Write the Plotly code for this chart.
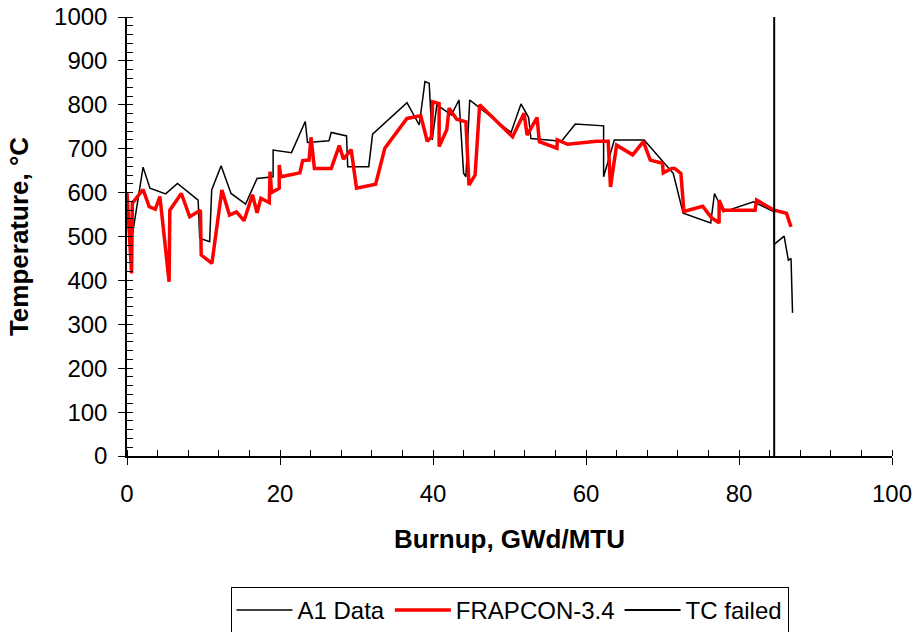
import plotly.graph_objects as go

# Measured thermocouple temperature (A1 Data)
a1_burnup = [0.0, 0.4, 2.1, 3.0, 5.05, 6.6, 9.3, 9.5, 10.8, 11.07, 12.3, 13.6, 15.5,
             17.0, 19.1, 19.1, 21.5, 23.3, 23.6, 26.4, 26.7, 28.7, 28.85, 31.6, 32.1,
             36.6, 38.2, 38.95, 39.5, 39.9, 40.5, 42.4, 43.4, 44.0, 44.3, 44.8, 45.9,
             50.2, 51.5, 52.5, 52.8, 56.8, 58.6, 62.3, 62.3, 63.7, 67.6, 69.7, 71.4,
             72.7, 76.3, 76.8, 77.95, 81.9, 84.6, 84.6, 85.9, 86.45, 86.8, 87.0]
a1_temp = [590, 470, 658, 610, 597, 621, 583, 496, 488, 606, 661, 598, 574,
           632, 636, 697, 691, 762, 714, 718, 737, 729, 659, 659, 733,
           805, 754, 853, 849, 720, 800, 777, 811, 644, 636, 811, 796,
           737, 802, 771, 723, 717, 756, 752, 636, 720, 720, 678, 644,
           553, 531, 598, 556, 579, 556, 482, 501, 446, 450, 326]

# FRAPCON-3.4 predicted centerline temperature
fr_burnup = [0.0, 0.6, 0.7, 2.1, 2.9, 3.7, 4.3, 5.5, 5.6, 7.1, 8.2, 9.6, 9.7, 11.1,
             12.4, 13.4, 14.3, 15.3, 16.4, 17.0, 17.5, 18.6, 18.7, 18.9, 19.9, 19.9,
             20.1, 22.6, 22.96, 23.8, 24.05, 24.5, 26.7, 27.75, 28.3, 29.3, 30.0, 32.5,
             33.7, 36.6, 38.4, 39.25, 39.8, 39.95, 40.8, 40.8, 41.8, 42.1, 43.1, 44.3,
             44.7, 45.5, 46.1, 50.4, 51.9, 52.3, 53.6, 53.9, 56.2, 56.25, 57.6, 61.4,
             62.9, 63.2, 64.0, 66.1, 67.5, 68.4, 70.0, 70.1, 71.2, 71.6, 72.4, 72.8,
             75.25, 76.4, 77.4, 77.4, 77.95, 82.1, 82.3, 84.6, 86.2, 86.8]
fr_temp = [600, 416, 576, 607, 568, 562, 591, 397, 560, 598, 545, 560, 458, 439,
           606, 549, 556, 536, 595, 554, 587, 577, 648, 600, 610, 663,
           636, 645, 673, 674, 726, 655, 655, 707, 676, 698, 610, 619,
           701, 769, 775, 717, 727, 807, 803, 705, 743, 792, 767, 761,
           617, 640, 800, 727, 781, 731, 771, 716, 701, 720, 710, 717,
           717, 613, 708, 686, 716, 674, 667, 645, 655, 655, 644, 557,
           569, 543, 531, 583, 560, 560, 583, 560, 553, 522]

# Burnup at which the thermocouple failed
tc_failed_burnup = [84.6, 84.6]
tc_failed_temp = [0, 1000]

font_family = "Liberation Sans, Arial, sans-serif"

fig = go.Figure()
fig.add_trace(go.Scatter(x=a1_burnup, y=a1_temp, mode="lines", name="A1 Data",
                         line=dict(color="black", width=1.5)))
fig.add_trace(go.Scatter(x=fr_burnup, y=fr_temp, mode="lines", name="FRAPCON-3.4",
                         line=dict(color="#ff0000", width=3.5)))
fig.add_trace(go.Scatter(x=tc_failed_burnup, y=tc_failed_temp, mode="lines",
                         name="TC failed", line=dict(color="black", width=2)))

fig.update_layout(
    width=922, height=632,
    margin=dict(l=127, r=30, t=17, b=176, autoexpand=False),
    paper_bgcolor="white", plot_bgcolor="white",
    font=dict(family=font_family, size=24, color="black"),
    showlegend=True,
    legend=dict(orientation="h", x=0.5, xanchor="center", y=-0.298, yanchor="top",
                bordercolor="black", borderwidth=1, font=dict(size=24),
                itemwidth=56, tracegroupgap=0),
    xaxis=dict(range=[0, 100], dtick=20, showgrid=False, zeroline=False,
               showline=True, linecolor="black", linewidth=1.5,
               ticks="outside", ticklen=7, tickcolor="black",
               minor=dict(dtick=4, ticks="inside", ticklen=6, tickcolor="black"),
               ticklabelstandoff=8, automargin=False,
               title=dict(text="<b>Burnup, GWd/MTU</b>", standoff=24,
                          font=dict(size=26)),
               tickfont=dict(size=24)),
    yaxis=dict(range=[0, 1000], dtick=100, showgrid=False, zeroline=False,
               showline=True, linecolor="black", linewidth=1.5,
               ticks="outside", ticklen=7, tickcolor="black",
               minor=dict(dtick=20, ticks="inside", ticklen=6, tickcolor="black"),
               ticklabelstandoff=6, automargin=False,
               title=dict(text="<b>Temperature, °C</b>", standoff=18,
                          font=dict(size=26)),
               tickfont=dict(size=24)),
)

fig.write_html("out.html")
